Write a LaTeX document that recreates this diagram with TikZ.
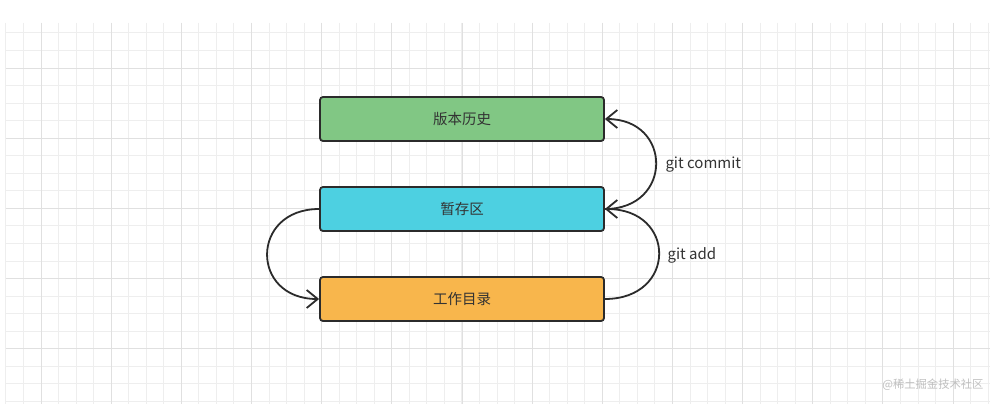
\documentclass[tikz,border=0pt]{standalone}
\usepackage{fontspec}
\setmainfont{Noto Sans CJK SC}
\usetikzlibrary{arrows.meta}

\definecolor{histgreen}{HTML}{81C784}
\definecolor{stagecyan}{HTML}{4DD0E1}
\definecolor{workorange}{HTML}{F8B64C}
\definecolor{edgedark}{HTML}{2B2B2B}
\definecolor{gridthin}{HTML}{EEEEEE}
\definecolor{gridbold}{HTML}{E0E0E0}

\begin{document}
\begin{tikzpicture}[x=1pt, y=-1pt,
  areabox/.style={draw=edgedark, line width=1.8pt, rounded corners=3pt,
    minimum width=284pt, minimum height=44pt, font=\fontsize{14.5}{16}\selectfont,
    text=black!80},
  flow/.style={draw=edgedark, line width=1.8pt,
    -{Straight Barb[length=11pt, width=18pt, line width=1.8pt]}},
  cmd/.style={font=\fontsize{15}{17}\selectfont, text=black!80, anchor=west}]
\useasboundingbox (0,0) rectangle (999,404);
\fill[white] (0,0) rectangle (999,404);

% grid
\foreach \i in {0,...,56}
  \draw[gridthin, line width=0.9pt] ({5.9+17.54*\i},23) -- ({5.9+17.54*\i},404);
\foreach \i in {1,...,22}
  \draw[gridthin, line width=0.9pt] (6,{15.4+17.54*\i}) -- (990,{15.4+17.54*\i});
\foreach \i in {0,...,13}
  \draw[gridbold, line width=0.9pt] ({41+70.16*\i},23) -- ({41+70.16*\i},404);
\foreach \i in {0,...,4}
  \draw[gridbold, line width=0.9pt] (6,{68+70.16*\i}) -- (990,{68+70.16*\i});

% three areas
\node[areabox, fill=histgreen] (hist) at (462,119) {版本历史};
\node[areabox, fill=stagecyan] (stage) at (462,209) {暂存区};
\node[areabox, fill=workorange] (work) at (462,299) {工作目录};

% transitions
\draw[flow] (stage.east) .. controls +(68,0) and +(68,0) .. (hist.east);
\draw[flow] (work.east) .. controls +(72,0) and +(72,0) .. (stage.east);
\draw[flow] (stage.west) .. controls +(-69,0) and +(-69,0) .. (work.west);

\node[cmd] (commit) at (662,165) {git commit};
\node[cmd] (add) at (664,255) {git add};

\node[font=\fontsize{11.3}{13}\selectfont, text=black!25, anchor=east] (mark) at (987,385) {@稀土掘金技术社区};
\end{tikzpicture}
\end{document}
